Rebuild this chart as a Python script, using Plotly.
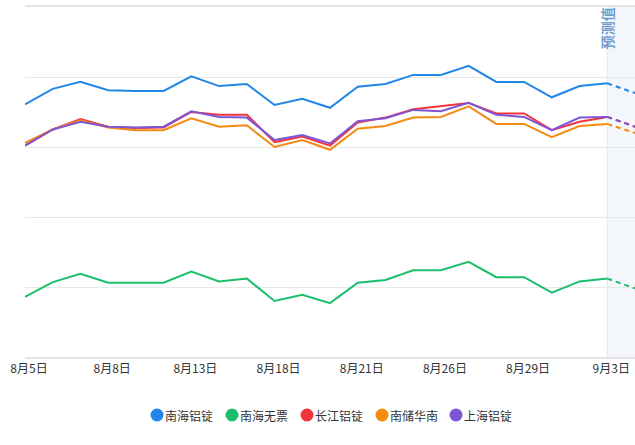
import plotly.graph_objects as go

dates = ["8月5日", "8月6日", "8月7日", "8月8日", "8月11日", "8月12日", "8月13日",
         "8月14日", "8月15日", "8月18日", "8月19日", "8月20日", "8月21日", "8月22日",
         "8月25日", "8月26日", "8月27日", "8月28日", "8月29日", "9月1日", "9月2日", "9月3日"]
pred_date = "9月4日"
tick_labels = ["8月5日", "8月8日", "8月13日", "8月18日", "8月21日", "8月26日", "8月29日", "9月3日"]

names = ["南海铝锭", "南海无票", "长江铝锭", "南储华南", "上海铝锭"]
colors = ["#2186e8", "#1bbf6b", "#f3343d", "#f58a10", "#7c56d6"]

nanhai = [20661, 20683, 20693, 20681, 20680, 20680, 20701, 20687, 20690, 20660, 20669,
          20656, 20686, 20690, 20703, 20703, 20716, 20693, 20693, 20671, 20687, 20691]
nanhai_wupiao = [20386, 20407, 20419, 20406, 20406, 20406, 20422, 20408, 20412, 20380, 20389,
                 20377, 20406, 20410, 20424, 20424, 20436, 20414, 20414, 20392, 20408, 20412]
changjiang = [20602, 20625, 20640, 20629, 20627, 20628, 20650, 20646, 20646, 20607, 20615,
              20602, 20635, 20642, 20654, 20658, 20663, 20648, 20648, 20624, 20636, 20643]
nanchu_huanan = [20606, 20625, 20638, 20628, 20624, 20624, 20641, 20629, 20631, 20600, 20610,
                 20596, 20626, 20630, 20642, 20643, 20658, 20633, 20633, 20614, 20630, 20633]
shanghai = [20602, 20625, 20636, 20629, 20628, 20629, 20651, 20643, 20642, 20610, 20617,
            20605, 20637, 20641, 20653, 20651, 20663, 20646, 20643, 20624, 20642, 20643]
predictions = [20677, 20398, 20629, 20620, 20629]

series = [nanhai, nanhai_wupiao, changjiang, nanchu_huanan, shanghai]
categories = dates + [pred_date]

fig = go.Figure()

for name, color, vals, pv in zip(names, colors, series, predictions):
    fig.add_trace(go.Scatter(
        x=dates, y=vals, mode="lines", name=name, legendgroup=name,
        line=dict(color=color, width=2), showlegend=False))
    fig.add_trace(go.Scatter(
        x=[dates[-1], pred_date], y=[vals[-1], pv], mode="lines", name=name,
        legendgroup=name, line=dict(color=color, width=2, dash="5px,4px"),
        showlegend=False))

# forecast region
fig.add_shape(type="rect", xref="x", yref="paper", x0=dates[-1], x1=pred_date,
              y0=0, y1=1, fillcolor="#f3f6fb", line=dict(width=0), layer="below")
fig.add_shape(type="line", xref="x", yref="paper", x0=dates[-1], x1=dates[-1],
              y0=0, y1=1, line=dict(color="#e4e8ee", width=1), layer="below")
fig.add_annotation(x=dates[-1], y=1, xref="x", yref="paper", text="预测值",
                   textangle=-90, showarrow=False, xanchor="center", yanchor="top",
                   yshift=2, font=dict(size=14, color="#6f9dd0", weight="bold"))

# legend (circle + label), laid out like the original
plot_left, plot_w, plot_bottom, plot_h = 25, 610, 357, 350
legend_px = [157, 232, 307, 382, 456]
legend_py = 415
ly = -(legend_py - plot_bottom) / plot_h
for name, color, px in zip(names, colors, legend_px):
    lx = (px - plot_left) / plot_w
    fig.add_shape(type="circle", xref="paper", yref="paper",
                  xsizemode="pixel", ysizemode="pixel", xanchor=lx, yanchor=ly,
                  x0=-6.5, x1=6.5, y0=-6.5, y1=6.5,
                  fillcolor=color, line=dict(width=0))
    fig.add_annotation(x=lx, y=ly, xref="paper", yref="paper", text=name,
                       showarrow=False, xanchor="left", yanchor="middle", xshift=6,
                       font=dict(size=12, color="#333333"))

fig.update_layout(
    width=635, height=445,
    margin=dict(l=25, r=0, t=7, b=88),
    paper_bgcolor="white", plot_bgcolor="white",
    font=dict(family="Noto Sans CJK SC", size=12, color="#333333"),
    showlegend=False,
    xaxis=dict(type="category", categoryorder="array", categoryarray=categories,
               range=[0, len(categories) - 1], tickmode="array",
               tickvals=tick_labels, ticktext=tick_labels, showgrid=False,
               showline=True, mirror=True, linecolor="#e4e4e4", linewidth=2, ticks="",
               tickfont=dict(size=12, color="#333333"), ticklabelshift=4),
    yaxis=dict(range=[20300, 20800], dtick=100, tick0=20300, showgrid=True,
               gridcolor="#e8e8e8", gridwidth=1, showticklabels=False,
               zeroline=False, showline=False, ticks=""),
)

fig.write_html("out.html")
